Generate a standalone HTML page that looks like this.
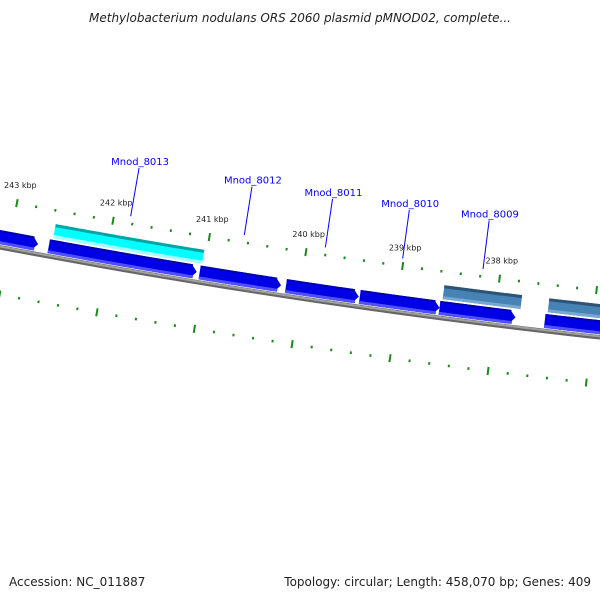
<!DOCTYPE html>
<html><head><meta charset="utf-8"><style>
html,body{margin:0;padding:0;background:#fff}
svg{display:block}
text{font-family:"DejaVu Sans","Liberation Sans",sans-serif}
</style></head><body>
<svg id="map" width="600" height="600" viewBox="0 0 600 600" xmlns="http://www.w3.org/2000/svg">
<text x="300" y="22" text-anchor="middle" font-size="12" font-style="italic" fill="#222">Methylobacterium nodulans ORS 2060 plasmid pMNOD02, complete...</text>
<text x="9" y="586" font-size="12" fill="#222">Accession: NC_011887</text>
<text x="591" y="586" text-anchor="end" font-size="12" fill="#222">Topology: circular; Length: 458,070 bp; Genes: 409</text>
<g id="layer"></g>
</svg>
<script>
const forwardGenes = [[244.43,242.71],[242.60,241.07],[241.04,240.20],[240.15,239.40],[239.39,238.57],[238.57,237.79],[237.49,235.7]];
const cyanGenes = [[242.57,241.03]];
const steelGenes = [[238.55,237.75],[237.47,235.7]];
const geneLabels = ["Mnod_8013","Mnod_8012","Mnod_8011","Mnod_8010","Mnod_8009"];
const geneLabelPos = [241.83,240.65,239.81,239.01,238.18];
const tickMajor = [243,242,241,240,239,238,237];
const tickLabels = ["243 kbp","242 kbp","241 kbp","240 kbp","239 kbp","238 kbp",""];
const tickMin = 236.4, tickMax = 244.0;

const NS="http://www.w3.org/2000/svg";
const CX=1450, CY=-7374, R=7758;
const layer=document.getElementById('layer');
function ang(k){return (100.71-(243-k)*0.726)*Math.PI/180;}
function pt(k,off){const a=ang(k),r=R+off;return [CX+r*Math.cos(a),CY+r*Math.sin(a)];}
function mk(tag,attrs){const e=document.createElementNS(NS,tag);for(const k in attrs)e.setAttribute(k,attrs[k]);layer.appendChild(e);return e;}
function arcPts(k1,k2,off){const n=40,p=[];for(let i=0;i<=n;i++){p.push(pt(k1+(k2-k1)*i/n,off));}return p;}
function band(k1,k2,o1,o2){const a=arcPts(k1,k2,o1),b=arcPts(k2,k1,o2);return a.concat(b).map(p=>p[0].toFixed(2)+','+p[1].toFixed(2)).join(' ');}
const kpp=1/(R*0.726*Math.PI/180);

const bb=arcPts(245,235,0).map(p=>p[0].toFixed(2)+','+p[1].toFixed(2)).join(' ');
const bb1=mk('polyline',{points:bb,fill:'none',stroke:'#666',"stroke-width":4.5});


const bbl=arcPts(245,235,-0.8).map(p=>p[0].toFixed(2)+','+p[1].toFixed(2)).join(' ');
const bb2=mk('polyline',{points:bbl,fill:'none',stroke:'#a0a0a0',"stroke-width":2});



for(let i=0;;i++){
  const k=Math.round((tickMin+i*0.2)*10)/10; if(k>tickMax)break;
  const major=Math.abs(k-Math.round(k))<1e-6;
  [-46.5,46.5].forEach(o=>{
    const h=major?4:1.3;
    const a=pt(k,o-h),b=pt(k,o+h);
    const t=mk('line',{x1:a[0],y1:a[1],x2:b[0],y2:b[1],stroke:'#1a8a1a',"stroke-width":2});
    
    
  });
}
tickMajor.forEach((k,i)=>{
  if(!tickLabels[i])return;
  const p=pt(k,-65);
  const t=mk('text',{x:p[0],y:p[1]+3,"text-anchor":"middle","font-size":8,fill:'#222'});
  t.textContent=tickLabels[i];
  
  
});

forwardGenes.forEach(g=>{
  const k1=g[0],k2=g[1],head=6*kpp;
  const a=arcPts(k1,k2+head,-17),b=[pt(k2,-10)],c=arcPts(k2+head,k1,-3);
  const pts=a.concat(b,c).map(p=>p[0].toFixed(2)+','+p[1].toFixed(2)).join(' ');
  const e=mk('polygon',{points:pts,fill:'#0000e6'});
  
  
  const top=mk('polygon',{points:band(k1,k2+head*0.8,-17,-15),fill:'#0000b0'});
  
  
  const bot=mk('polygon',{points:band(k1,k2+head*0.5,-6,-3),fill:'#5050ff'});
  
  
});
function track(list,main,dark,light,name){
  list.forEach(g=>{
    const e=mk('polygon',{points:band(g[0],g[1],-33,-19),fill:main});
    
    
    const t=mk('polygon',{points:band(g[0],g[1],-33,-30),fill:dark});
    
    
    const b=mk('polygon',{points:band(g[0],g[1],-22,-19),fill:light});
    
    
  });
}
track(cyanGenes,'#00ffff','#00a6a6','#a8ffff','cyan-feature');
track(steelGenes,'#4682b4','#2c5476','#78a8d0','steelblue-feature');

geneLabels.forEach((lab,i)=>{
  const k=geneLabelPos[i];
  const a=pt(k,-54),b=pt(k,-103);
  const l=mk('line',{x1:a[0],y1:a[1],x2:b[0],y2:b[1],stroke:'#0000ff',"stroke-width":1});
  
  
  const p=pt(k,-109);
  const t=mk('text',{x:p[0],y:p[1]+3,"text-anchor":"middle","font-size":10,fill:'#0000ff'});
  t.textContent=lab;
  
  
});
</script>
</body></html>
